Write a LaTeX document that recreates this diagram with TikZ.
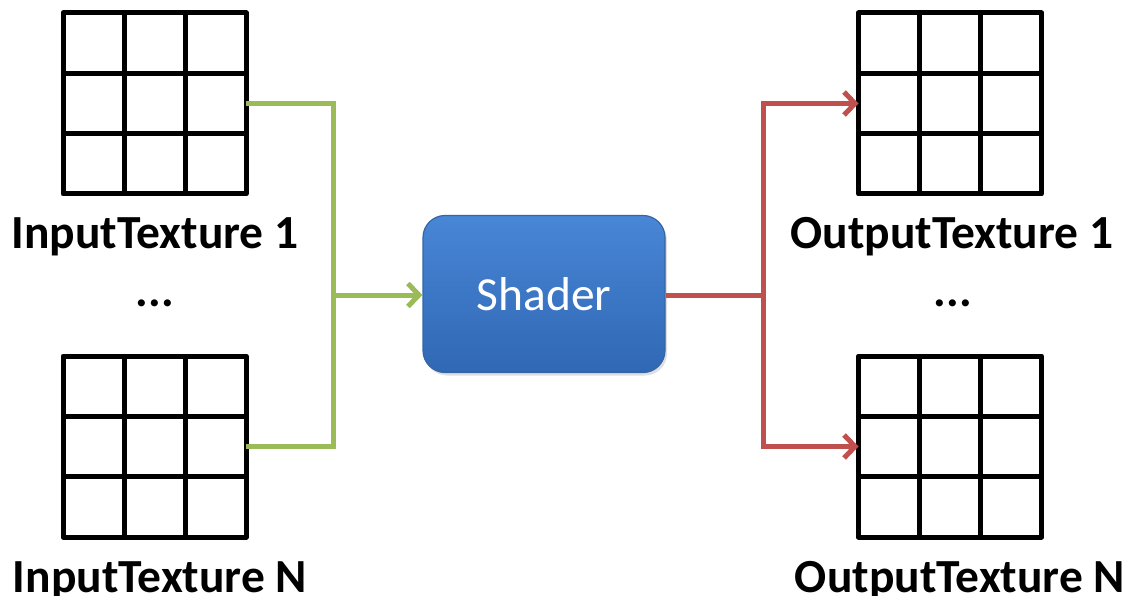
\documentclass[tikz,border=0pt]{standalone}
\usepackage{fontspec}
\setmainfont{Carlito}
\usetikzlibrary{arrows.meta,calc,shadows}
\definecolor{arrgreen}{HTML}{9BBB59}
\definecolor{arrred}{HTML}{C0504D}
\definecolor{shtop}{HTML}{4886D6}
\definecolor{shbot}{HTML}{3068B4}
\definecolor{shborder}{HTML}{3565A5}
\tikzset{
  texgrid/.style={draw=black, line width=5pt, line join=round,
    minimum width=183pt, minimum height=181pt, inner sep=0pt, outer sep=0pt,
    path picture={
      \foreach \f in {1,2} {
        \draw[line width=5pt]
          ($(path picture bounding box.north west)!\f/3!(path picture bounding box.north east)$) --
          ($(path picture bounding box.south west)!\f/3!(path picture bounding box.south east)$);
        \draw[line width=5pt]
          ($(path picture bounding box.north west)!\f/3!(path picture bounding box.south west)$) --
          ($(path picture bounding box.north east)!\f/3!(path picture bounding box.south east)$);
      }
    }},
  shaderbox/.style={draw=shborder, line width=1.2pt, rounded corners=22pt,
    top color=shtop, bottom color=shbot, minimum width=242pt, minimum height=157pt,
    inner sep=0pt, text=white, font=\fontsize{47.5}{47.5}\selectfont,
    drop shadow={opacity=0.25, shadow xshift=2pt, shadow yshift=-3pt}},
  lbl/.style={anchor=base, inner sep=0pt, font=\bfseries\fontsize{47.5}{47.5}\selectfont},
  gconn/.style={draw=arrgreen, line width=5pt},
  rconn/.style={draw=arrred, line width=5pt},
  tip/.style={-{Straight Barb[length=11pt,width=23pt]}}
}
\begin{document}
\begin{tikzpicture}[x=1pt,y=-1pt]
\useasboundingbox (0,0) rectangle (1127,596);
% grids
\node[texgrid] (in1)  at (154.5,103.5) {};
\node[texgrid] (in2)  at (154.5,446.5) {};
\node[texgrid] (out1) at (950,103.5) {};
\node[texgrid] (out2) at (950,446.5) {};
% shader
\node[shaderbox] (shader) at (544,294) {Shader};
% labels
\node[lbl] (lin1) at (155,248) {InputTexture 1};
\node[lbl] (ldots1) at (155,306) {...};
\node[lbl] (linN) at (160,592) {InputTexture N};
\node[lbl] (lout1) at (952,248) {OutputTexture 1};
\node[lbl] (ldots2) at (953,306) {...};
\node[lbl] (loutN) at (960,592) {OutputTexture N};
% junctions
\coordinate (gj) at (333,295);
\coordinate (rj) at (763,295);
% green connectors
\draw[gconn] (in1.east) -| (gj) |- (in2.east);
\draw[gconn,tip] (gj) -- (shader.west |- gj);
% red connectors
\draw[rconn] (shader.east |- rj) -- (rj);
\draw[rconn,tip] (rj) |- (out1.west);
\draw[rconn,tip] (rj) |- (out2.west);
\end{tikzpicture}
\end{document}
